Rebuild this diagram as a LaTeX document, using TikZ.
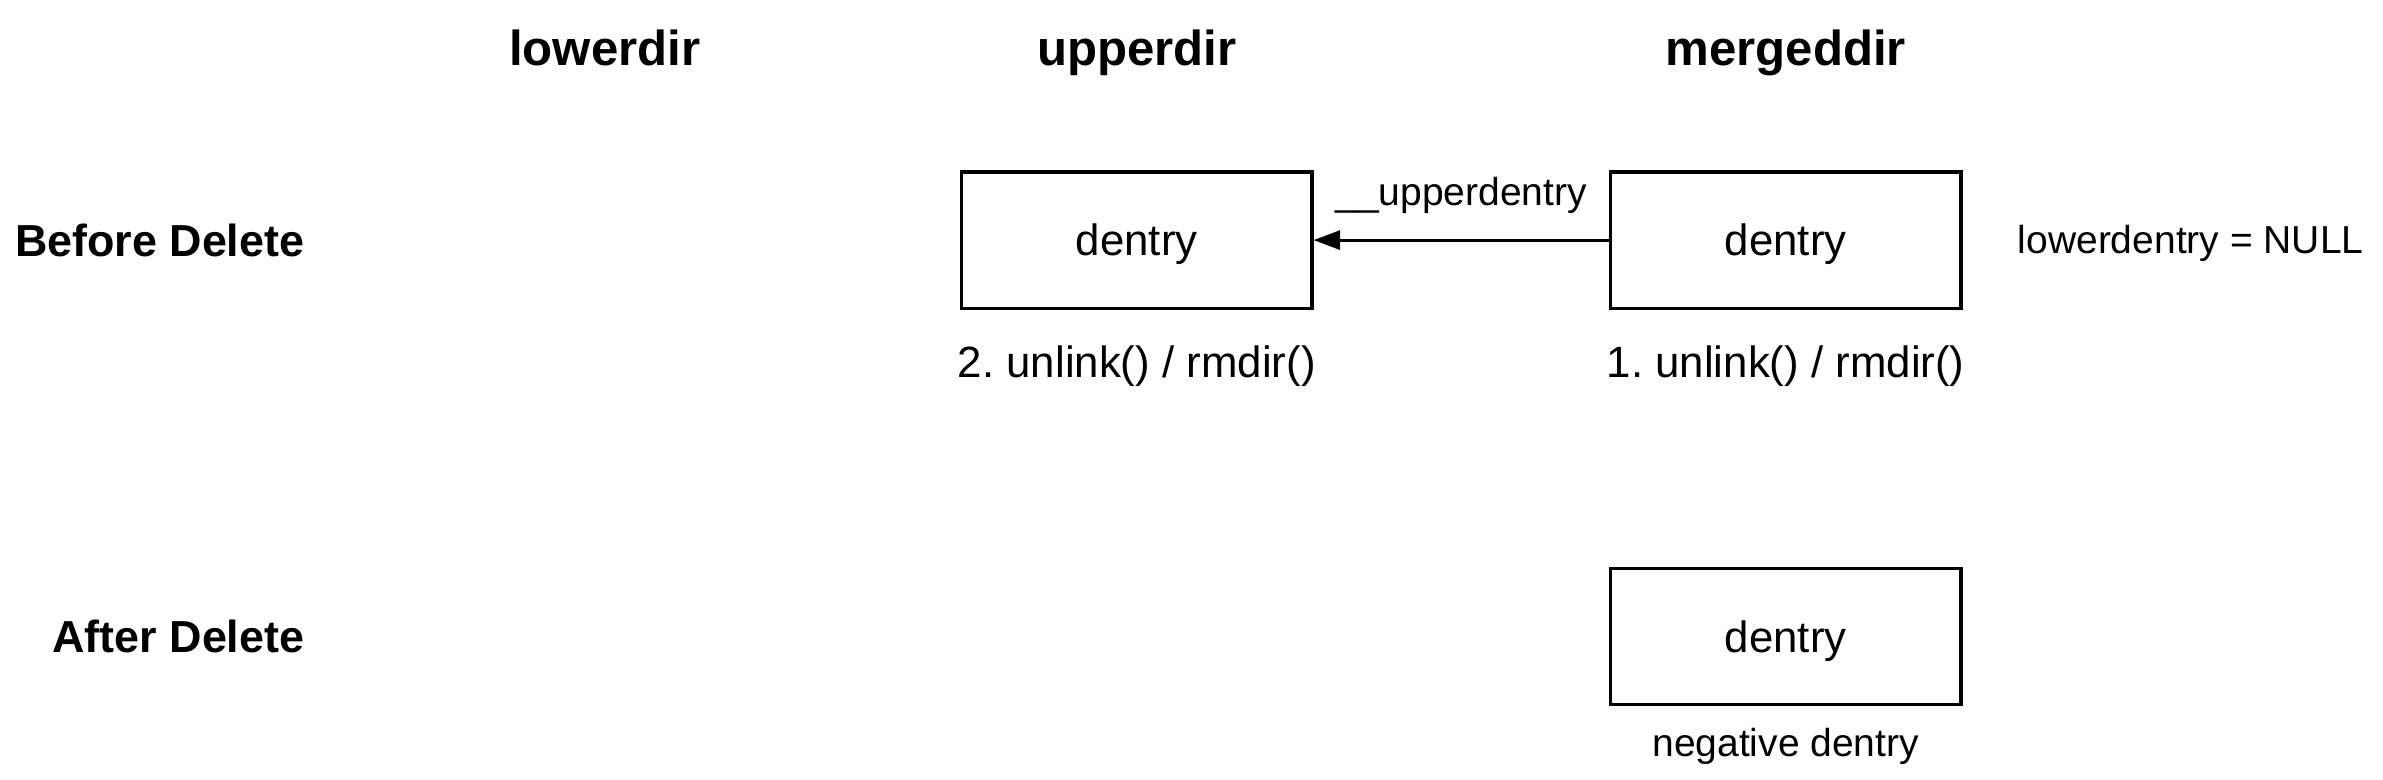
\documentclass[tikz,border=0pt]{standalone}
\usepackage{fontspec}
\setmainfont{Liberation Sans}
\usepackage{xcolor}
\usetikzlibrary{positioning,arrows.meta}
\frenchspacing

\begin{document}
\begin{tikzpicture}[node distance=1.5cm, auto, >={Triangle[length=0.35cm, width=0.25cm]}]
    \tikzstyle{entry} = [rectangle, minimum width=4.61cm, minimum height=1.79cm, text centered, text height=14.8pt, text depth=3.4pt, draw=black, line width=1.2pt, font=\fontsize{16.4}{19}\selectfont]
    \tikzstyle{dirlabel} = [text height=7.5pt, text depth=2.5pt, font=\fontsize{18.4}{22}\selectfont\bfseries]
    \tikzstyle{stage} = [anchor=east, font=\fontsize{16.8}{20}\selectfont\bfseries]
    \tikzstyle{syscall} = [font=\fontsize{16.4}{19}\selectfont]
    \tikzstyle{note} = [font=\fontsize{14.6}{17}\selectfont]

    \useasboundingbox (-14.96,3.16) rectangle (16.40,-7.10);

    % Dentry boxes
    \node [entry] (upper) {dentry};
    \node [entry, right of=upper, xshift=7.04cm] (merged) {dentry};
    \node [entry, below of=merged, yshift=-3.72cm] (after) {dentry};

    % Directory headers
    \node [dirlabel, above of=upper, yshift=0.88cm] (upperdir) {upperdir};
    \node [dirlabel, above of=merged, yshift=0.88cm] (mergeddir) {mergeddir};
    \node [dirlabel, left of=upperdir, xshift=-5.5cm] (lowerdir) {lowerdir};

    % Rows
    \node [left of=upper, xshift=-9.33cm, stage] (before) {Before Delete};
    \node [left of=after, xshift=-17.87cm, stage] (afterdel) {After Delete};

    % Labels
    \node [syscall, below of=upper, yshift=-0.16cm] (unlinkupper) {2. unlink() / rmdir()};
    \node [syscall, below of=merged, yshift=-0.16cm] (unlinkmerged) {1. unlink() / rmdir()};
    \node [note, below of=after, yshift=0.06cm] (negative) {negative dentry};
    \node [right of=merged, xshift=1.43cm, yshift=-0.05cm, note, anchor=west] (lowernull) {lowerdentry = NULL};

    % Arrows
    \draw [->, line width=1.2pt] (merged) -- node [note, above=6pt] (ptr) {\_\_upperdentry} (upper);
\end{tikzpicture}
\end{document}
